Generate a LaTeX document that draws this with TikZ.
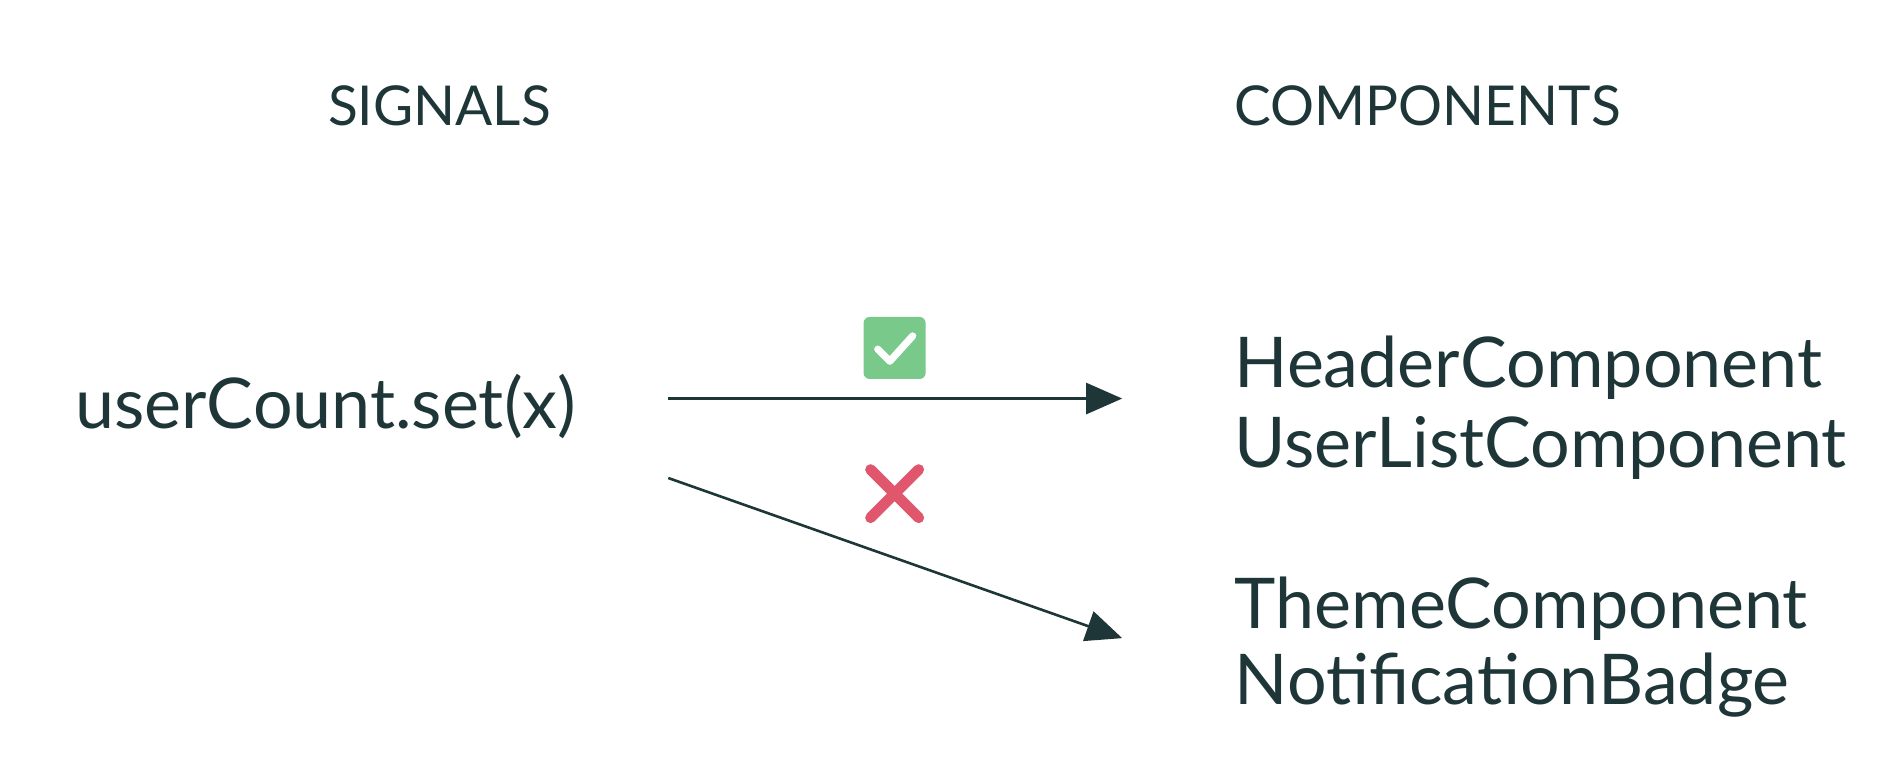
\documentclass[tikz,border=0pt]{standalone}
\usepackage{fontspec}
\setmainfont{Lato}
\usetikzlibrary{arrows.meta}
\definecolor{ink}{HTML}{1E3638}
\definecolor{okg}{HTML}{78C98A}
\definecolor{bad}{HTML}{E0566C}
\begin{document}
\begin{tikzpicture}[x=0.602pt,y=-0.602pt,
  big/.style={inner sep=0pt,anchor=base west,text=ink,font=\fontsize{35}{35}\selectfont},
  head/.style={inner sep=0pt,anchor=base,text=ink,font=\fontsize{27.5}{27.5}\selectfont},
  conn/.style={draw=ink,line width=1.3pt,-{Triangle[length=18pt,width=15.5pt]}}]
\useasboundingbox (0,0) rectangle (1568,639.5);
\node[head] (sig) at (365,104) {SIGNALS};
\node[head,anchor=base west] (comp) at (1025,104) {COMPONENTS};
\node[big] (uc) at (62,356) {userCount.set(x)};
\node[big] (h) at (1025,322) {HeaderComponent};
\node[big] (u) at (1025,388) {UserListComponent};
\node[big] (t) at (1025,522) {ThemeComponent};
\node[big] (n) at (1025,585) {NotificationBadge};
\coordinate (a1) at (555,331); \coordinate (b1) at (932,331);
\coordinate (a2) at (555,397); \coordinate (b2) at (932,530);
\draw[conn] (a1) -- (b1);
\draw[conn] (a2) -- (b2);
\node[fill=okg,rounded corners=3pt,minimum size=31pt,inner sep=0pt] (ok) at (743,289) {};
\draw[white,line width=3.6pt,line cap=round,line join=round] (729,290) -- (739,300) -- (758,279);
\draw[bad,line width=5.4pt,line cap=round] (723,390) -- (763,430) (763,390) -- (723,430);
\end{tikzpicture}
\end{document}
